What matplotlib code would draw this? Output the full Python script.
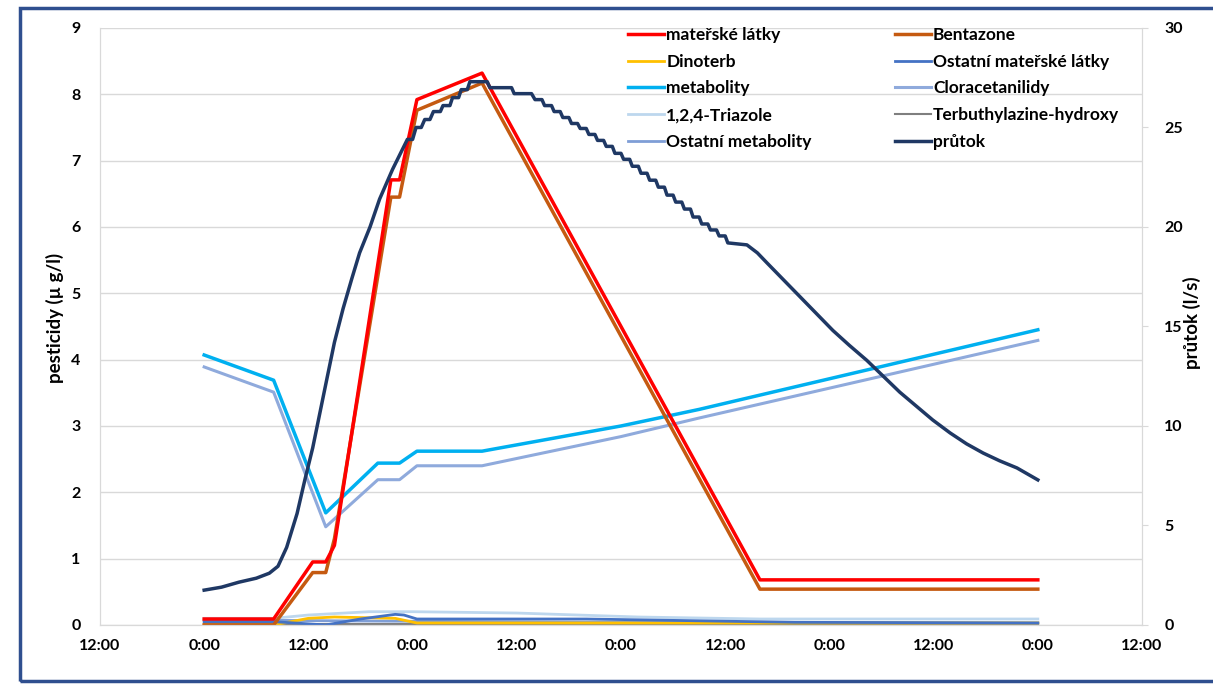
import numpy as np
import matplotlib.pyplot as plt
from matplotlib.patches import Rectangle

plt.rcParams['font.family'] = ['Lato', 'DejaVu Sans']
plt.rcParams['font.weight'] = 'bold'

# x axis: hours from the first 12:00 label
tick_hours = [0, 12, 24, 36, 48, 60, 72, 84, 96, 108, 120]
tick_labels = ['12:00', '0:00', '12:00', '0:00', '12:00', '0:00',
               '12:00', '0:00', '12:00', '0:00', '12:00']

# pesticide sums (ug/l)
pest_hours = [12, 20, 24.5, 26, 27, 33.5, 34.5, 36.5, 44, 76, 108]
materske = [0.09, 0.09, 0.95, 0.95, 1.2, 6.71, 6.71, 7.92, 8.32, 0.68, 0.68]
bentazone = [0.0, 0.0, 0.79, 0.79, 1.3, 6.45, 6.45, 7.76, 8.17, 0.54, 0.54]

met_hours = [12, 20, 26, 32, 34.5, 36.5, 44, 60, 69, 108]
metabolity = [4.07, 3.69, 1.69, 2.44, 2.44, 2.62, 2.62, 3.0, 3.25, 4.45]
cloracet = [3.89, 3.51, 1.48, 2.19, 2.19, 2.40, 2.40, 2.84, 3.12, 4.29]

# minor compounds near zero
dino_hours = [12, 20, 24, 27, 34, 36.5, 108]
dinoterb = [0.0, 0.0, 0.10, 0.12, 0.10, 0.03, 0.03]

omat_hours = [12, 20, 26, 30, 34, 35, 36.5, 56, 80, 108]
ostatni_mat = [0.05, 0.05, 0.0, 0.09, 0.16, 0.15, 0.09, 0.09, 0.04, 0.03]

tri_hours = [12, 20, 24, 31, 36, 48, 62, 76, 108]
triazole = [0.10, 0.10, 0.15, 0.20, 0.20, 0.18, 0.12, 0.09, 0.09]

terb_hours = [12, 108]
terbuthyl = [0.02, 0.02]

omet_hours = [12, 20, 30, 60, 108]
ostatni_met = [0.07, 0.07, 0.06, 0.04, 0.03]

# flow (l/s)
flow_hours = [12.0, 14.0, 16.0, 18.0, 19.5, 20.5, 21.5, 22.7, 23.6, 24.5,
              25.3, 26.1, 27.0, 28.0, 29.0, 29.9, 31.1, 32.2, 33.7, 35.4,
              36.0, 36.4, 37.0, 37.4, 38.0, 38.4, 39.2, 39.5, 40.3, 40.6,
              41.3, 41.6, 42.3, 42.6, 44.6, 44.9, 47.4, 47.7, 49.7, 50.1,
              50.9, 51.2, 52.0, 52.3, 53.0, 53.3, 54.0, 54.3, 55.0, 55.3,
              56.0, 56.3, 57.0, 57.3, 58.0, 58.3, 59.0, 59.3, 60.0, 60.3,
              61.0, 61.3, 62.0, 62.3, 63.0, 63.3, 64.0, 64.3, 65.0, 65.3,
              66.0, 66.3, 67.0, 67.3, 68.0, 68.3, 69.0, 69.3, 70.0, 70.3,
              71.0, 71.3, 72.0, 72.3, 74.5, 75.7, 76.8, 78.7, 80.6, 82.5,
              84.4, 86.3, 88.3, 90.2, 92.1, 94.0, 95.9, 97.9, 99.8, 101.7,
              103.6, 105.6, 108.0]
flow_ls = [1.75, 1.9, 2.15, 2.35, 2.6, 2.95, 3.9, 5.6, 7.3, 8.9,
           10.6, 12.3, 14.2, 15.9, 17.4, 18.7, 20.0, 21.4, 22.9, 24.4,
           24.4, 25.0, 25.0, 25.4, 25.4, 25.8, 25.8, 26.1, 26.1, 26.5,
           26.5, 26.9, 26.9, 27.3, 27.3, 27.0, 27.0, 26.7, 26.7, 26.4,
           26.4, 26.1, 26.1, 25.8, 25.8, 25.5, 25.5, 25.2, 25.2, 24.95,
           24.95, 24.65, 24.65, 24.35, 24.35, 24.05, 24.05, 23.7, 23.7, 23.4,
           23.4, 23.05, 23.05, 22.7, 22.7, 22.35, 22.35, 22.0, 22.0, 21.6,
           21.6, 21.25, 21.25, 20.9, 20.9, 20.5, 20.5, 20.15, 20.15, 19.85,
           19.85, 19.55, 19.55, 19.2, 19.1, 18.7, 18.2, 17.35, 16.5, 15.65,
           14.8, 14.05, 13.3, 12.5, 11.7, 11.0, 10.3, 9.65, 9.1, 8.64,
           8.25, 7.89, 7.29]

fig = plt.figure(figsize=(12.13, 6.84), dpi=100)
ax = fig.add_axes([0.0824, 0.0863, 0.8591, 0.8728])
ax2 = ax.twinx()

h_tri, = ax.plot(tri_hours, triazole, color='#BDD7EE', lw=2, label='1,2,4-Triazole')
h_terb, = ax.plot(terb_hours, terbuthyl, color='#7F7F7F', lw=1.5, label='Terbuthylazine-hydroxy')
h_omet, = ax.plot(omet_hours, ostatni_met, color='#7F9ED6', lw=2, label='Ostatní metabolity')
h_dino, = ax.plot(dino_hours, dinoterb, color='#FFC000', lw=2, label='Dinoterb')
h_omat, = ax.plot(omat_hours, ostatni_mat, color='#4472C4', lw=2, label='Ostatní mateřské látky')
h_clor, = ax.plot(met_hours, cloracet, color='#8FAADC', lw=2.2, label='Cloracetanilidy')
h_met, = ax.plot(met_hours, metabolity, color='#00B0F0', lw=2.5, label='metabolity')
h_bent, = ax.plot(pest_hours, bentazone, color='#C55A11', lw=2.5, label='Bentazone')
h_mat, = ax.plot(pest_hours, materske, color='#FF0000', lw=2.5, label='mateřské látky')
h_flow, = ax2.plot(flow_hours, flow_ls, color='#1F3864', lw=2.5, label='průtok')

ax.set_xlim(0, 120)
ax.set_ylim(0, 9)
ax2.set_ylim(0, 30)
ax.set_xticks(tick_hours)
ax.set_xticklabels(tick_labels)
ax.set_yticks(range(0, 10))
ax2.set_yticks(range(0, 31, 5))

ax.grid(axis='y', color='#D9D9D9', lw=1)
ax.set_axisbelow(True)
for a in (ax, ax2):
    for s in a.spines.values():
        s.set_color('#D9D9D9')
    a.spines['top'].set_visible(False)
ax.tick_params(axis='x', length=0, pad=10, labelsize=11.5)
ax.tick_params(axis='y', length=0, pad=14, labelsize=11.5)
ax2.tick_params(axis='y', length=4, color='#D9D9D9', pad=12, labelsize=11.5)

fig.text(55 / 1213, 1 - 318 / 684, 'pesticidy (\u00b5 g/l)', rotation=90,
         ha='center', va='center', fontsize=13.5, fontweight='bold')
fig.text(1192 / 1213, 1 - 323 / 684, 'průtok (l/s)', rotation=90,
         ha='center', va='center', fontsize=13.5, fontweight='bold')

handles = [h_mat, h_dino, h_met, h_tri, h_omet,
           h_bent, h_omat, h_clor, h_terb, h_flow]
ax2.legend(handles=handles, ncol=2, frameon=False, loc='upper left',
           bbox_to_anchor=(621 / 1213, 1 - 20 / 684),
           bbox_transform=fig.transFigure, fontsize=12.5,
           handlelength=2.1, handletextpad=0.1, columnspacing=4.8,
           labelspacing=0.62, borderaxespad=0)

fig.patches.append(Rectangle((20 / 1213, 3 / 684), 1.2, 1 - 11 / 684,
                             transform=fig.transFigure, fill=False,
                             edgecolor='#2F4F8F', lw=2.5))

fig.savefig('out.png', dpi=100)
